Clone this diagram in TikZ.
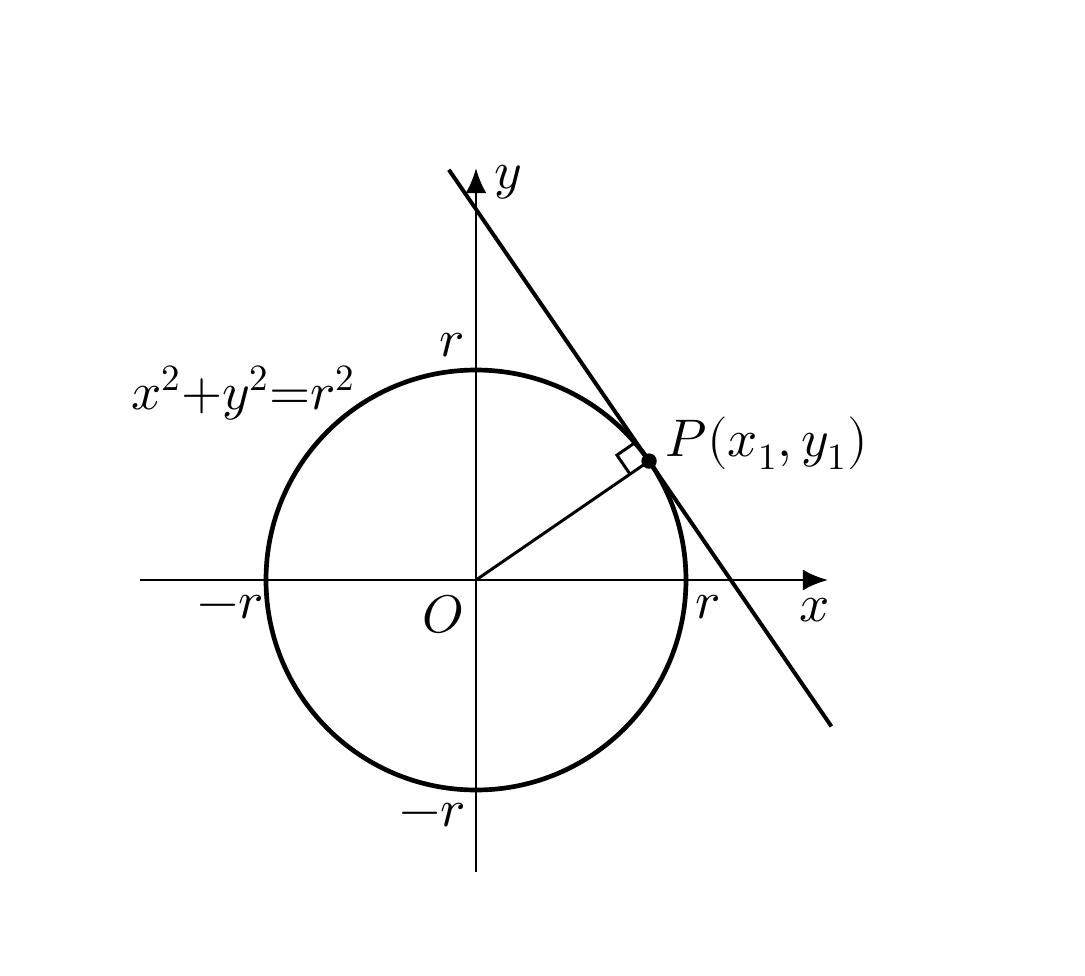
\documentclass[tikz,border=0pt]{standalone}
\usepackage{amsmath}
\usepackage{unicode-math}
\usetikzlibrary{calc,arrows.meta,positioning}

\tikzset{
  axis line/.style   = {line width=1.2pt, -{Latex[length=3.6mm,width=3mm]}},
  curve line/.style  = {line width=1.9pt},
  big label/.style   = {font=\fontsize{21.5}{26}\selectfont, inner sep=0pt},
}

\begin{document}
\begin{tikzpicture}[line width=1.2pt]
\useasboundingbox (-6.8,-5.657) rectangle (8.7,8.286);
\def\rad{3}
\def\ang{34.5}
%---------------------------------------------
\coordinate (O) at (0,0);
\coordinate (x_start) at (-4.8,0);
\coordinate (x_end)   at (5.03,0);
\coordinate (y_start) at (0,-4.17);
\coordinate (y_end)   at (0,5.886);
\coordinate (P) at (\ang:\rad);
\coordinate (t_up)   at ($(P)+(\ang+90:5.05)$);
\coordinate (t_down) at ($(P)+(\ang-90:4.6)$);

\draw[axis line] (x_start) -- (x_end);
\draw[axis line] (y_start) -- (y_end);
\draw[curve line] (O) circle (\rad);
\draw[line width=1.6pt] (t_up) -- (t_down);
\draw (O) -- (P);

% right angle mark
\draw ($(P)!0.33cm!(O)$) coordinate (m1)
   -- ($(m1)+(\ang+90:0.33)$) coordinate (m2)
   -- ($(P)+(\ang+90:0.33)$);
\fill (P) circle (0.11);

%---------------------------------------------
\node[big label] (lab_y)  at (0.457,5.686)  {$y$};
\node[big label] (lab_x)  at (4.84,-0.43)   {$x$};
\node[big label] (lab_O)  at (-0.47,-0.486) {$O$};
\node[big label] (lab_rt) at (-0.343,3.357) {$r$};
\node[big label] (lab_rb) at (-0.63,-3.357) {$-r$};
\node[big label] (lab_rl) at (-3.51,-0.386) {$-r$};
\node[big label] (lab_rr) at (3.31,-0.386)  {$r$};
\node[big label] (lab_eq) at (-3.33,2.67)   {$x^2{+}y^2{=}r^2$};
\node[big label, anchor=west] (lab_P) at ($(P)+(0.22,0.25)$) {$P(x_1,y_1)$};
\end{tikzpicture}
\end{document}
